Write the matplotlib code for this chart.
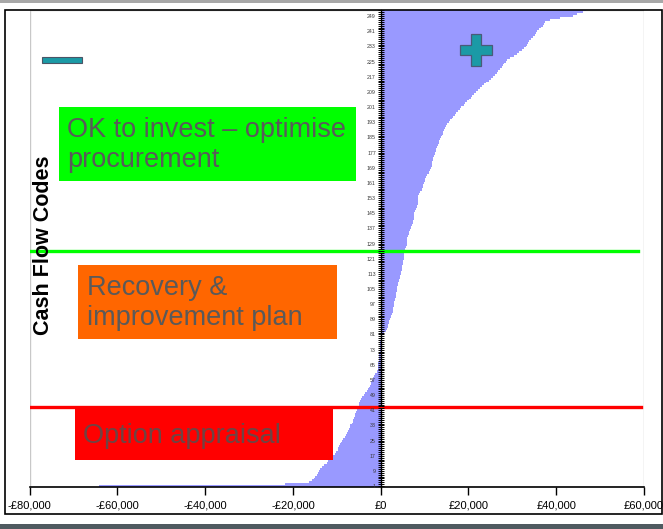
import matplotlib
matplotlib.use("Agg")
import matplotlib.pyplot as plt
from matplotlib.patches import Rectangle, Polygon
from matplotlib.ticker import FixedLocator, FixedFormatter, MultipleLocator

plt.rcParams['font.family'] = ['Liberation Sans', 'DejaVu Sans']

# Net cash flow per code (GBP), codes sorted from worst to best
cash_flow = [
    -64200, -21800, -16400, -15700, -15200, -14900, -14500, -14300, -14000, -13800,
    -13400, -12900, -12300, -12100, -11600, -11300, -10900, -10400, -10200, -9700,
    -9700, -9500, -9300, -9000, -8800, -8600, -8200, -7900, -7700, -7500,
    -7200, -7000, -6900, -6500, -6300, -6200, -6000, -5900, -5800, -5600,
    -5400, -5300, -5100, -5000, -4900, -4700, -4400, -4200, -3900, -3500,
    -3200, -2900, -2700, -2500, -2300, -2200, -2000, -1800, -1500, -1200,
    -900, -800, -700, -600, -500, -500, -400, -400, -350, -300,
    -300, -250, -200, -150, -100, -80, -50, 50, 150, 300,
    500, 800, 1100, 1500, 1600, 1700, 1900, 2000, 2100, 2300,
    2400, 2600, 2700, 2800, 2900, 3000, 3100, 3100, 3200, 3300,
    3400, 3500, 3600, 3700, 3700, 3800, 3900, 4000, 4100, 4200,
    4300, 4500, 4600, 4700, 4800, 4900, 4900, 5000, 5100, 5100,
    5200, 5300, 5300, 5400, 5500, 5600, 5700, 5900, 5900, 6000,
    6000, 6100, 6200, 6400, 6500, 6700, 6900, 7000, 7100, 7300,
    7400, 7500, 7500, 7600, 7700, 7900, 8000, 8200, 8300, 8400,
    8500, 8500, 8600, 8600, 8700, 9000, 9400, 9500, 9600, 9700,
    9800, 10000, 10200, 10400, 10600, 10900, 11000, 11200, 11400, 11600,
    11700, 11800, 11900, 12000, 12100, 12300, 12400, 12600, 12700, 12900,
    13100, 13300, 13400, 13600, 13800, 13900, 14100, 14300, 14400, 14700,
    14900, 15200, 15500, 15800, 16200, 16500, 16900, 17200, 17600, 18000,
    18400, 18900, 19300, 19700, 20100, 20500, 20900, 21300, 21700, 22100,
    22600, 23100, 23600, 24100, 24700, 25200, 25600, 26000, 26400, 26800,
    27200, 27600, 27900, 28200, 28500, 28800, 29500, 30300, 31000, 31600,
    32100, 32600, 33000, 33300, 33500, 33800, 34200, 34700, 35100, 35400,
    35700, 36100, 36500, 36900, 37100, 37400, 38500, 40800, 43800, 44800,
    46200, 46800,
]
codes = list(range(1, len(cash_flow) + 1))

x_ticks = [-80000, -60000, -40000, -20000, 0, 20000, 40000, 60000]
x_tick_labels = ['-£80,000', '-£60,000', '-£40,000', '-£20,000', '£0',
                 '£20,000', '£40,000', '£60,000']
code_ticks = list(range(1, 250, 8))

# Thresholds separating the three action bands (code positions)
recovery_threshold = 42.7
invest_threshold = 124.9

W, H = 663, 529
fig = plt.figure(figsize=(W / 100, H / 100), dpi=100)
fig.patch.set_facecolor('white')


def fx(x):
    return x / W


def fy(y):
    return 1 - y / H


# slide bands and frame
fig.add_artist(Rectangle((0, fy(3)), 1, 3 / H, transform=fig.transFigure,
                         facecolor='#a8a8a8', edgecolor='none'))
fig.add_artist(Rectangle((0, 0), 1, 5 / H, transform=fig.transFigure,
                         facecolor='#4f5a60', edgecolor='none'))
fig.add_artist(Rectangle((fx(5), fy(514)), fx(662) - fx(5), (514 - 10) / H,
                         transform=fig.transFigure, facecolor='none',
                         edgecolor='black', linewidth=1.2))

ax_l, ax_r, ax_t, ax_b = 29.6, 644, 9.5, 487
ax = fig.add_axes([fx(ax_l), fy(ax_b), fx(ax_r) - fx(ax_l), (ax_b - ax_t) / H])
ax.set_facecolor('white')

ax.barh(codes, cash_flow, height=1.0, color='#9999ff', edgecolor='none', zorder=2)

ax.set_xlim(-80000, 60000)
ax.set_ylim(0.5, len(cash_flow) + 0.5)

# y axis drawn through zero
ax.spines['left'].set_position(('data', 0))
ax.spines['left'].set_linewidth(1.0)
ax.spines['left'].set_zorder(4)
ax.spines['top'].set_visible(False)
ax.spines['right'].set_visible(False)
ax.spines['bottom'].set_linewidth(1.2)
ax.spines['bottom'].set_color('black')
ax.add_patch(Rectangle((0, 0), 1, 1, transform=ax.transAxes, fill=False,
                       edgecolor='#c8c8c8', linewidth=1.0, zorder=0))

ax.yaxis.set_major_locator(FixedLocator(code_ticks))
ax.yaxis.set_minor_locator(MultipleLocator(1))
ax.tick_params(axis='y', which='major', direction='inout', length=4, width=0.7,
               labelsize=3.8, labelcolor='#3a3a3a', pad=1.5)
ax.tick_params(axis='y', which='minor', direction='inout', length=4, width=0.7)
ax.yaxis.set_zorder(6)

ax.xaxis.set_major_locator(FixedLocator(x_ticks))
ax.xaxis.set_major_formatter(FixedFormatter(x_tick_labels))
ax.tick_params(axis='x', which='major', direction='out', length=6, width=1.0,
               labelsize=8, pad=4)
for lab in ax.get_xticklabels():
    lab.set_family(['Liberation Sans Narrow', 'Liberation Sans'])

# threshold lines
ax.axhline(invest_threshold, xmin=0, xmax=0.99, color='#00ff00', linewidth=2.4, zorder=5)
ax.axhline(recovery_threshold, xmin=0, xmax=0.995, color='#ff0000', linewidth=2.4, zorder=5)

# band annotation boxes
boxes = [
    ((59, 107, 356, 181), '#00ff00', 'OK to invest – optimise\nprocurement', (67, 145), '#5a5a5a'),
    ((78, 265, 337, 339), '#ff6600', 'Recovery &\nimprovement plan', (87, 303), '#5a5a5a'),
    ((75, 407, 333, 460), '#ff0000', 'Option appraisal', (83, 436), '#6e4444'),
]
for (x0, y0, x1, y1), col, txt, (tx, ty), tcol in boxes:
    fig.add_artist(Rectangle((fx(x0), fy(y1)), fx(x1) - fx(x0), (y1 - y0) / H,
                             transform=fig.transFigure, facecolor=col,
                             edgecolor='none', zorder=6))
    fig.text(fx(tx), fy(ty), txt, fontsize=19.5, color=tcol, ha='left',
             va='center', linespacing=1.22, zorder=7)

# minus sign
fig.add_artist(Rectangle((fx(42), fy(63)), fx(82) - fx(42), 6 / H,
                         transform=fig.transFigure, facecolor='#1b9aa6',
                         edgecolor='#4a5566', linewidth=0.8, zorder=7))

# plus sign
cx, cy, arm, half = 476, 50, 16, 5
pts = [(cx - half, cy - arm), (cx + half, cy - arm), (cx + half, cy - half),
       (cx + arm, cy - half), (cx + arm, cy + half), (cx + half, cy + half),
       (cx + half, cy + arm), (cx - half, cy + arm), (cx - half, cy + half),
       (cx - arm, cy + half), (cx - arm, cy - half), (cx - half, cy - half)]
fig.add_artist(Polygon([(fx(a), fy(b)) for a, b in pts], closed=True,
                       transform=fig.transFigure, facecolor='#1b9aa6',
                       edgecolor='#4a5a78', linewidth=0.9, zorder=7))

fig.text(fx(44), fy(245), 'Cash Flow Codes', rotation=90, fontsize=15.5,
         fontweight='bold', color='black', ha='center', va='center')

fig.savefig('out.png', dpi=100)
